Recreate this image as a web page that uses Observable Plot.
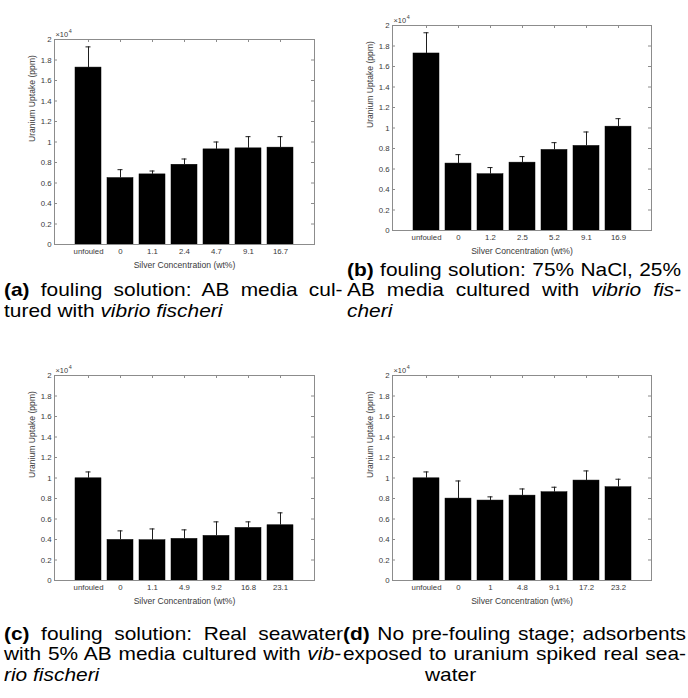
<!DOCTYPE html>
<html><head><meta charset="utf-8">
<script src="https://cdn.jsdelivr.net/npm/d3@7"></script>
<script src="https://cdn.jsdelivr.net/npm/@observablehq/plot@0.6"></script>
<style>
body{margin:0;background:#fff;}
#fig{position:relative;width:688px;height:698px;overflow:hidden;background:#fff;font-family:"Liberation Sans",Arial,sans-serif;}
.panel{position:absolute;}
.cap{position:absolute;font-size:19px;line-height:21px;color:#000;white-space:nowrap;transform-origin:0 0;}
.cap b{font-weight:bold;}
.cap i{font-style:italic;}
</style></head><body><div id="fig"></div>
<script>
// ---- data (Uranium uptake, ppm) ----
const catsA = ["unfouled","0","1.1","2.4","4.7","9.1","16.7"];
const valuesA = [17260, 6480, 6840, 7780, 9280, 9380, 9450];
const errorsA = [2020, 820, 330, 560, 720, 1140, 1070];

const catsB = ["unfouled","0","1.2","2.5","5.2","9.1","16.9"];
const valuesB = [17270, 6530, 5490, 6620, 7860, 8250, 10130];
const errorsB = [2020, 870, 650, 590, 710, 1360, 780];

const catsC = ["unfouled","0","1.1","4.9","9.2","16.8","23.1"];
const valuesC = [9970, 3960, 3930, 4060, 4350, 5130, 5390];
const errorsC = [620, 880, 1100, 880, 1370, 590, 1210];

const catsD = ["unfouled","0","1","4.8","9.1","17.2","23.2"];
const valuesD = [9970, 7990, 7800, 8280, 8610, 9750, 9100];
const errorsD = [620, 1720, 360, 650, 490, 940, 780];

const yTicks = [0,2000,4000,6000,8000,10000,12000,14000,16000,18000,20000];
const xLabel = "Silver Concentration (wt%)";
const yLabel = "Uranium Uptake (ppm)";

const fig = document.getElementById("fig");
const axisColor = "#8c8c8c";
const textColor = "#3a3a3a";

function panel(cats, values, errors, L) {
  const data = cats.map((c, i) => ({cat: c, v: values[i], e: errors[i]}));
  const W = 344, mB = 30;
  const H = L.mTop + L.plotH + mB;
  const pw = W - L.mLeft - L.mRight;
  const bw = pw / 8 * 0.8;
  const capIn = (bw - 5) / 2;
  const chart = Plot.plot({
    width: W, height: H,
    marginLeft: L.mLeft, marginRight: L.mRight, marginTop: L.mTop, marginBottom: mB,
    style: {fontFamily: "Liberation Sans, Arial, sans-serif", fontSize: "7.8px", color: textColor, background: "transparent", overflow: "visible"},
    x: {domain: cats, paddingInner: 0.2, paddingOuter: 0.6, axis: null},
    y: {domain: [0, 20000], axis: null},
    marks: [
      Plot.tickX(cats, {x: d => d, insetTop: L.plotH - 3, stroke: axisColor}),
      Plot.barY(data, {x: "cat", y: "v", fill: "#000", stroke: "#000", strokeWidth: 0.5}),
      Plot.ruleX(data, {x: "cat", y1: "v", y2: d => d.v + d.e, stroke: "#1e1e1e", strokeWidth: 1}),
      Plot.tickY(data, {x: "cat", y: d => d.v + d.e, insetLeft: capIn, insetRight: capIn, stroke: "#1e1e1e", strokeWidth: 1}),
      Plot.frame({stroke: axisColor}),
      Plot.tickY(yTicks, {y: d => d, insetRight: pw - 3, stroke: axisColor}),
      Plot.tickY(yTicks, {y: d => d, insetLeft: pw - 3, stroke: axisColor}),
      Plot.tickX(cats, {x: d => d, insetBottom: L.plotH - 3, stroke: axisColor}),
      Plot.axisX({tickSize: 0, tickPadding: 4, label: null, fill: textColor}),
      Plot.axisY({ticks: yTicks, tickSize: 0, tickPadding: 3, label: null, fill: textColor,
                  tickFormat: d => String(+(d / 1e4).toFixed(1))}),
      Plot.text([xLabel], {frameAnchor: "bottom", dy: 21, fontSize: 8.6, fill: textColor, lineAnchor: "middle"}),
      Plot.text([yLabel], {frameAnchor: "left", rotate: -90, dx: -22, fontSize: 8.6, fill: textColor, lineAnchor: "middle"}),
      Plot.text(["×10"], {frameAnchor: "top-left", dx: 1, dy: -5, textAnchor: "start", fontSize: 7.4, fill: textColor, lineAnchor: "middle"}),
      Plot.text(["4"], {frameAnchor: "top-left", dx: 14.2, dy: -8, textAnchor: "start", fontSize: 5.4, fill: textColor, lineAnchor: "middle"})
    ]
  });
  chart.classList.add("panel");
  chart.style.left = L.left + "px";
  chart.style.top = L.top + "px";
  fig.appendChild(chart);
}

panel(catsA, valuesA, errorsA, {left: 0, top: 0, mLeft: 54, mRight: 30, mTop: 39, plotH: 205});
panel(catsB, valuesB, errorsB, {left: 344, top: 0, mLeft: 48, mRight: 37, mTop: 25, plotH: 205});
panel(catsC, valuesC, errorsC, {left: 0, top: 340, mLeft: 54, mRight: 30, mTop: 35, plotH: 205});
panel(catsD, valuesD, errorsD, {left: 344, top: 340, mLeft: 48, mRight: 37, mTop: 35, plotH: 205});

// ---- captions ----
const K = 1.1; // horizontal stretch of caption text
function capLine(parts, x, baseline, width, justify) {
  const d = document.createElement("div");
  d.className = "cap";
  for (const [t, s] of parts) {
    const el = document.createElement(s === "b" ? "b" : s === "i" ? "i" : "span");
    el.textContent = t;
    d.appendChild(el);
  }
  d.style.left = x + "px";
  d.style.top = (baseline - 17.1) + "px";
  fig.appendChild(d);
  if (justify) {
    const nat = d.getBoundingClientRect().width;
    const n = (d.textContent.match(/ /g) || []).length;
    const target = width / K;
    if (n > 0) d.style.wordSpacing = ((target - nat) / n) + "px";
  }
  d.style.transform = "scaleX(" + K + ")";
}

capLine([["(a)","b"],[" fouling solution: AB media cul-",""]], 3.5, 296.5, 338.5, true);
capLine([["tured with ",""],["vibrio fischeri","i"]], 3.5, 317, 338.5, false);

capLine([["(b)","b"],[" fouling solution: 75% NaCl, 25%",""]], 347, 276, 334, true);
capLine([["AB media cultured with ",""],["vibrio fis-","i"]], 347, 296.5, 334, true);
capLine([["cheri","i"]], 347, 317, 334, false);

capLine([["(c)","b"],[" fouling solution: Real seawater",""]], 3.5, 640, 339, true);
capLine([["with 5% AB media cultured with ",""],["vib-","i"]], 3.5, 660.5, 337, true);
capLine([["rio fischeri","i"]], 3.5, 681, 339, false);

capLine([["(d)","b"],[" No pre-fouling stage; adsorbents",""]], 342.5, 640, 343, true);
capLine([["exposed to uranium spiked real sea-",""]], 342.5, 660.5, 343, true);
capLine([["water",""]], 425, 681, 343, false);
</script>
</body></html>
